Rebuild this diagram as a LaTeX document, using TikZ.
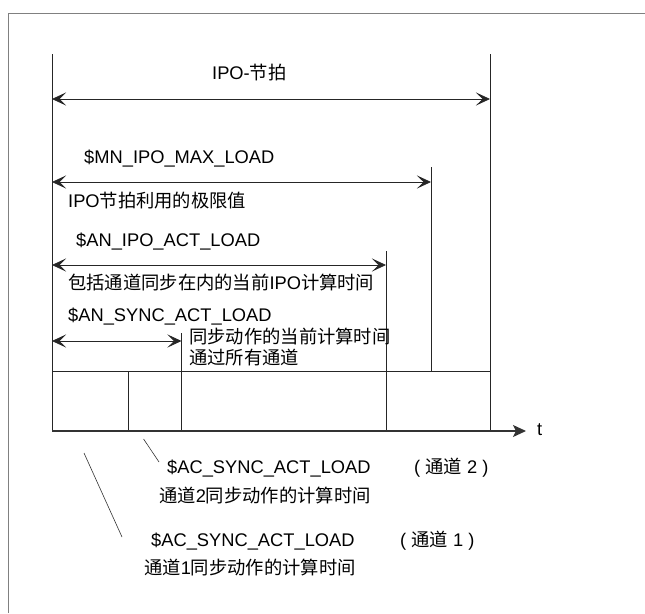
\documentclass[tikz,border=0pt]{standalone}
\usepackage{fontspec}
\setmainfont{Liberation Sans}
\newfontfamily\cjk{Noto Sans CJK SC}
\usetikzlibrary{arrows.meta}
\begin{document}
\begin{tikzpicture}[x=1pt,y=-1pt,
  lbl/.style={anchor=base west, inner sep=0pt, font=\fontsize{18.3}{21}\selectfont},
  ln/.style={line width=0.8pt, draw=black!85},
  tip/.tip={Stealth[length=14pt,width=13pt,inset=6.5pt]},
  dim/.style={ln, tip-tip},
  axis/.style={line width=1.2pt, draw=black!80, -{Stealth[length=13pt,width=12pt,inset=3pt]}},
  frame/.style={line width=1pt, draw=black!50},
  lead/.style={line width=0.6pt, draw=black!80}]
\useasboundingbox (0,0) rectangle (645,613);
% frame
\coordinate (F0) at (8,613);
\coordinate (F1) at (8,13);
\coordinate (F2) at (645,13);
\draw[frame] (F0) -- (F1) -- (F2);
% verticals
\coordinate (Lt) at (52,54);   \coordinate (Lb) at (52,431);
\coordinate (Rt) at (490,54);  \coordinate (Rb) at (490,431);
\coordinate (Mt) at (431,167); \coordinate (Mb) at (431,371.5);
\coordinate (At) at (386,251); \coordinate (Ab) at (386,431);
\coordinate (St) at (181.5,333); \coordinate (Sb) at (181.5,431);
\coordinate (Ct) at (128,371.5); \coordinate (Cb) at (128,431);
\coordinate (Hl) at (52,371.5); \coordinate (Hr) at (490,371.5);
\coordinate (Xe) at (526,431);
\draw[ln] (Lt) -- (Lb);
\draw[ln] (Rt) -- (Rb);
\draw[ln] (Mt) -- (Mb);
\draw[ln] (At) -- (Ab);
\draw[ln] (St) -- (Sb);
\draw[ln] (Ct) -- (Cb);
\draw[ln] (Hl) -- (Hr);
\draw[axis] (Lb) -- (Xe);
\node[lbl] (t) at (537,435) {t};
% dimension arrows
\coordinate (a1l) at (52,99);  \coordinate (a1r) at (490,99);
\coordinate (a2l) at (52,182); \coordinate (a2r) at (431,182);
\coordinate (a3l) at (52,265); \coordinate (a3r) at (386,265);
\coordinate (a4l) at (52,341); \coordinate (a4r) at (181.5,341);
\draw[dim] (a1l) -- (a1r);
\draw[dim] (a2l) -- (a2r);
\draw[dim] (a3l) -- (a3r);
\draw[dim] (a4l) -- (a4r);
% labels
\node[lbl] (ipo) at (212,79) {IPO-{\cjk 节拍}};
\node[lbl] (mn) at (84,163) {\$MN\_IPO\_MAX\_LOAD};
\node[lbl] (mnt) at (68,207) {IPO{\cjk 节拍利用的极限值}};
\node[lbl] (an) at (76,246) {\$AN\_IPO\_ACT\_LOAD};
\node[lbl] (ant) at (68,289) {{\cjk 包括通道同步在内的当前}IPO{\cjk 计算时间}};
\node[lbl] (as) at (68,321) {\$AN\_SYNC\_ACT\_LOAD};
\node[lbl] (ast1) at (189,343) {\cjk 同步动作的当前计算时间};
\node[lbl] (ast2) at (189,364) {\cjk 通过所有通道};
\node[lbl] (ac2) at (167,473) {\$AC\_SYNC\_ACT\_LOAD};
\node[lbl] (ac2c) at (414,473) {( {\cjk 通道} 2 )};
\node[lbl] (ac2t) at (159,502) {{\cjk 通道}2{\cjk 同步动作的计算时间}};
\node[lbl] (ac1) at (151,546) {\$AC\_SYNC\_ACT\_LOAD};
\node[lbl] (ac1c) at (400,546) {( {\cjk 通道} 1 )};
\node[lbl] (ac1t) at (144,574) {{\cjk 通道}1{\cjk 同步动作的计算时间}};
% leader lines
\coordinate (l2a) at (143.6,439); \coordinate (l2b) at (159,462);
\coordinate (l1a) at (84,453);    \coordinate (l1b) at (122,537);
\draw[lead] (l2a) -- (l2b);
\draw[lead] (l1a) -- (l1b);
\end{tikzpicture}
\end{document}
